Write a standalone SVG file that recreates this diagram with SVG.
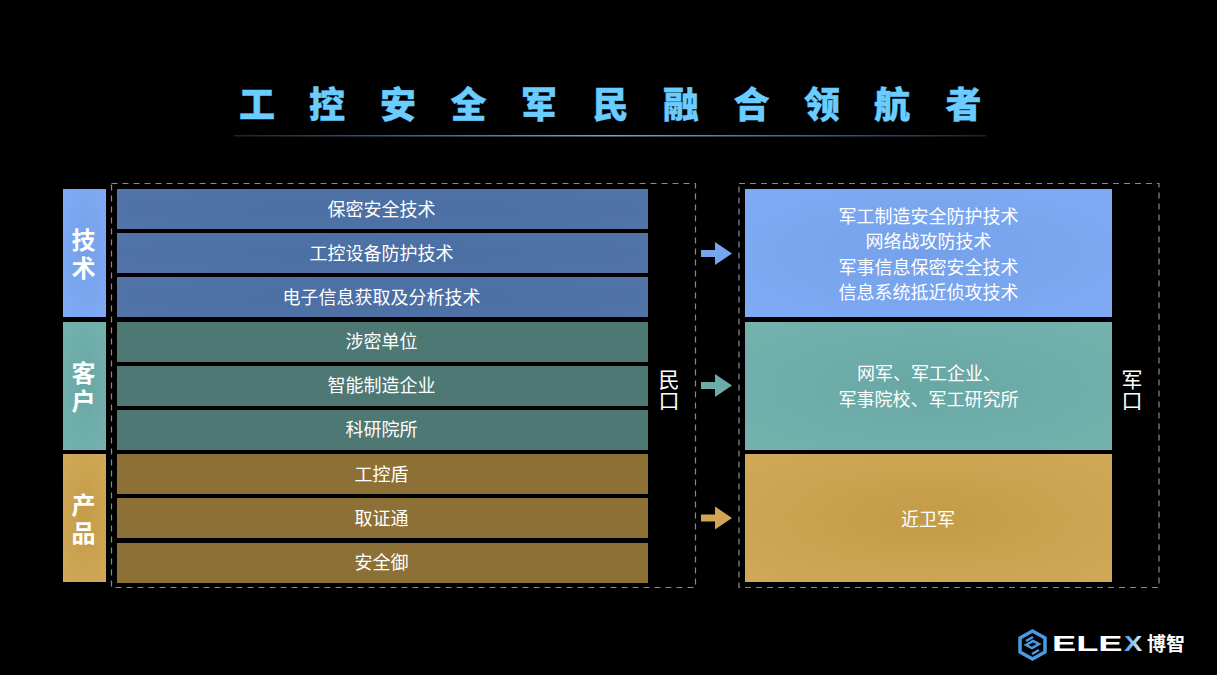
<svg xmlns="http://www.w3.org/2000/svg" width="1217" height="675" viewBox="0 0 1217 675">
<defs>
<linearGradient id="line" x1="0" x2="1" y1="0" y2="0"><stop offset="0" stop-color="#1a2230"/><stop offset="0.5" stop-color="#66a8e0"/><stop offset="1" stop-color="#1a2230"/></linearGradient>
<linearGradient id="xg" x1="0" x2="1" y1="0" y2="0"><stop offset="0" stop-color="#4a9ae6"/><stop offset="1" stop-color="#e8f2fc"/></linearGradient>
<radialGradient id="bl" cx="0.5" cy="0.5" r="0.7"><stop offset="0" stop-color="#4a6ea3"/><stop offset="1" stop-color="#5274a8"/></radialGradient>
<radialGradient id="blue" cx="0.5" cy="0.5" r="0.7"><stop offset="0" stop-color="#74a2ea"/><stop offset="1" stop-color="#80aaf5"/></radialGradient>
<radialGradient id="teal" cx="0.5" cy="0.5" r="0.7"><stop offset="0" stop-color="#68a8a4"/><stop offset="1" stop-color="#74b2ae"/></radialGradient>
<radialGradient id="gold" cx="0.5" cy="0.5" r="0.7"><stop offset="0" stop-color="#c49c48"/><stop offset="1" stop-color="#d0a858"/></radialGradient>
</defs>
<style>
text{font-family:"Noto Sans CJK SC","Noto Sans",sans-serif;fill:#fff;text-anchor:middle}
.t{font-size:18px}
.s{font-size:24px;font-weight:700;writing-mode:vertical-rl;text-anchor:start;letter-spacing:4px}
.m{font-size:21px;writing-mode:vertical-rl;text-anchor:start}
.h{font-size:36px;font-weight:900;fill:#6accff;stroke:#6accff;stroke-width:.4}
.d{fill:none;stroke:#8a8a8a;stroke-width:1.200;stroke-dasharray:6 5}
.b{fill:url(#bl)}.g{fill:#4e7874}.o{fill:#8d7035}
</style>
<rect width="1217" height="675" fill="#000"/>
<g id="title">
<text class="h" x="257" y="118">工</text><text class="h" x="327" y="118">控</text><text class="h" x="398" y="118">安</text><text class="h" x="468.500" y="118">全</text><text class="h" x="539" y="118">军</text><text class="h" x="610.500" y="118">民</text><text class="h" x="681" y="118">融</text><text class="h" x="751.500" y="118">合</text><text class="h" x="822" y="118">领</text><text class="h" x="892" y="118">航</text><text class="h" x="963.500" y="118">者</text>
<rect x="234" y="135" width="752" height="1.500" fill="url(#line)"/>
</g>
<g id="frames">
<rect class="d" x="111.500" y="183.500" width="584" height="404"/>
<rect class="d" x="739" y="183.500" width="420" height="404"/>
</g>
<g id="tab-tech"><rect x="63" y="189" width="43" height="128" fill="url(#blue)"/><text class="s" x="83.500" y="228">技术</text></g>
<g id="tab-client"><rect x="63" y="322" width="43" height="128" fill="url(#teal)"/><text class="s" x="83.500" y="360.500">客户</text></g>
<g id="tab-product"><rect x="63" y="454" width="43" height="128" fill="url(#gold)"/><text class="s" x="83.500" y="492.500">产品</text></g>
<g id="row1"><rect class="b" x="117" y="189" width="531" height="40"/><text class="t" x="381.500" y="216">保密安全技术</text></g>
<g id="row2"><rect class="b" x="117" y="233" width="531" height="40"/><text class="t" x="381.500" y="260">工控设备防护技术</text></g>
<g id="row3"><rect class="b" x="117" y="277" width="531" height="40"/><text class="t" x="381.500" y="304">电子信息获取及分析技术</text></g>
<g id="row4"><rect class="g" x="117" y="322" width="531" height="40"/><text class="t" x="381.500" y="348">涉密单位</text></g>
<g id="row5"><rect class="g" x="117" y="366" width="531" height="40"/><text class="t" x="381.500" y="392">智能制造企业</text></g>
<g id="row6"><rect class="g" x="117" y="410" width="531" height="40"/><text class="t" x="381.500" y="436">科研院所</text></g>
<g id="row7"><rect class="o" x="117" y="454" width="531" height="40"/><text class="t" x="381.500" y="481">工控盾</text></g>
<g id="row8"><rect class="o" x="117" y="498" width="531" height="40"/><text class="t" x="381.500" y="525">取证通</text></g>
<g id="row9"><rect class="o" x="117" y="543" width="531" height="40"/><text class="t" x="381.500" y="569">安全御</text></g>
<g id="label-min"><text class="m" x="669" y="369">民口</text></g>
<g id="box-tech"><rect x="745" y="189" width="367" height="128" fill="url(#blue)"/><text class="t" x="928.500" y="222.500">军工制造安全防护技术</text><text class="t" x="928.500" y="248">网络战攻防技术</text><text class="t" x="928.500" y="273.500">军事信息保密安全技术</text><text class="t" x="928.500" y="299">信息系统抵近侦攻技术</text></g>
<g id="box-client"><rect x="745" y="322" width="367" height="128" fill="url(#teal)"/><text class="t" x="929" y="380">网军、军工企业、</text><text class="t" x="928.500" y="406">军事院校、军工研究所</text></g>
<g id="box-product"><rect x="745" y="454" width="367" height="128" fill="url(#gold)"/><text class="t" x="928" y="526">近卫军</text></g>
<g id="label-jun"><text class="m" x="1132" y="369">军口</text></g>
<g id="connectors">
<path d="M701 250h14v-8l17 11.500l-17 11.500v-8h-14z" fill="#78a6ee"/>
<path d="M701 382h14v-8l17 11.500l-17 11.500v-8h-14z" fill="#6cacA8"/>
<path d="M701 514.500h14v-8l17 11.500l-17 11.500v-8h-14z" fill="#d0a656"/>
</g>
<g id="logo">
<path d="M1032.500 631l12.500 7v14l-12.500 7l-12.500-7v-14z" fill="none" stroke="#4a9ae6" stroke-width="3.500"/>
<path d="M1026 645l7-4l6 3l-7 4zM1026 641l7-4M1039 650l-7 4" fill="none" stroke="#4a9ae6" stroke-width="2.500"/>
<text transform="translate(1052 651) scale(1.65 1)" style="font-family:'Liberation Sans',sans-serif;font-weight:700;font-size:22px;text-anchor:start">ELE</text>
<text transform="translate(1124 651) scale(1.25 1)" style="font-family:'Liberation Sans',sans-serif;font-weight:700;font-size:22px;text-anchor:start;fill:url(#xg)">X</text>
<text x="1166" y="651" style="font-size:19px;font-weight:700">博智</text>
</g>
</svg>
